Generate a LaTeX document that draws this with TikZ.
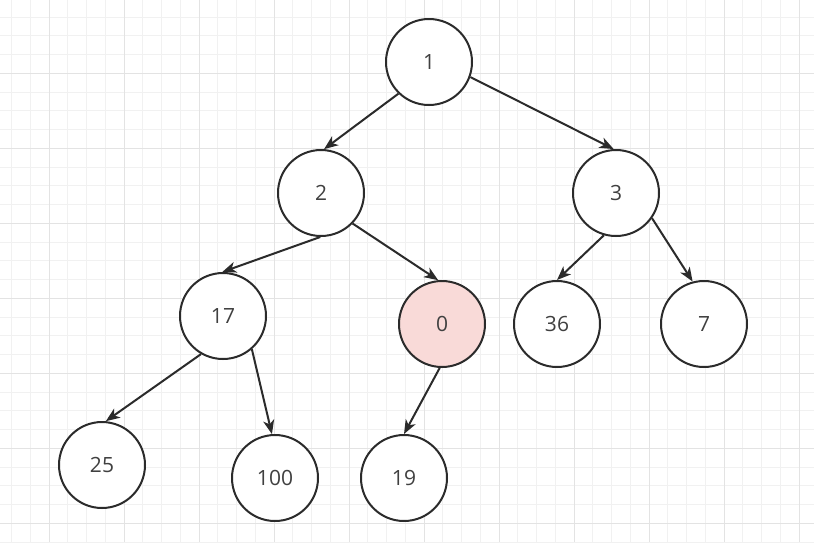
\documentclass[tikz,border=0pt]{standalone}
\usepackage{fontspec}
\setmainfont{Open Sans}
\usetikzlibrary{arrows.meta}
\definecolor{minorgrid}{HTML}{F1F1F1}
\definecolor{majorgrid}{HTML}{E3E3E3}
\definecolor{ink}{HTML}{2B2B2B}
\definecolor{pinkfill}{HTML}{F9DAD8}
\tikzset{
  treenode/.style={circle, draw=ink, line width=2pt, fill=white, minimum size=86pt, inner sep=0pt,
    font=\fontsize{21}{25}\selectfont, text=ink!90},
  marked/.style={fill=pinkfill},
  edge/.style={draw=ink, line width=2pt, -{Stealth[length=14pt,width=11pt,inset=4pt]}},
}
\begin{document}
\begin{tikzpicture}[x=1pt,y=-1pt]
\useasboundingbox (0,0) rectangle (814,542);
\fill[white] (0,0) rectangle (814,542);
% grid
\foreach \x in {11.5,30.25,...,814} \draw[minorgrid, line width=1pt] (\x,0) -- (\x,542);
\foreach \y in {17,35.75,...,542} \draw[minorgrid, line width=1pt] (0,\y) -- (814,\y);
\foreach \x in {49,124,...,814} \draw[majorgrid, line width=1pt] (\x,0) -- (\x,542);
\foreach \y in {73.25,148.25,...,542} \draw[majorgrid, line width=1pt] (0,\y) -- (814,\y);
% nodes
\node[treenode] (n1) at (429,62) {1};
\node[treenode] (n2) at (321,193) {2};
\node[treenode] (n3) at (616,193) {3};
\node[treenode] (n17) at (223,316) {17};
\node[treenode, marked] (n0) at (442,324) {0};
\node[treenode] (n36) at (557,324) {36};
\node[treenode] (n7) at (704,324) {7};
\node[treenode] (n25) at (102,465) {25};
\node[treenode] (n100) at (275,478) {100};
\node[treenode] (n19) at (404,478) {19};
% edges
\draw[edge] (n1.226) -- (n2.86);
\draw[edge] (n1.340) -- (n3.93);
\draw[edge] (n2.269) -- (n17.91);
\draw[edge] (n2.316) -- (n0.95);
\draw[edge] (n3.254) -- (n36.90);
\draw[edge] (n3.325) -- (n7.105);
\draw[edge] (n17.240) -- (n25.85);
\draw[edge] (n17.311) -- (n100.94);
\draw[edge] (n0.267) -- (n19.90);
\end{tikzpicture}
\end{document}
